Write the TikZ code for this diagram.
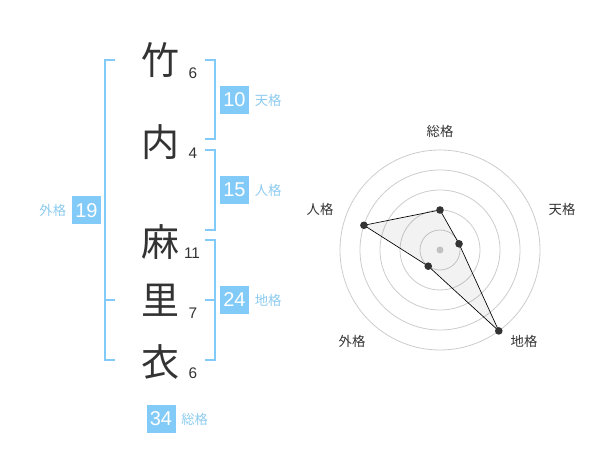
\documentclass[tikz,border=0pt]{standalone}
\usepackage{fontspec}
\setmainfont{Liberation Sans}
\newfontfamily\jpfont{Noto Sans CJK JP}
\definecolor{kakublue}{HTML}{82CBF8}
\definecolor{kakutext}{HTML}{8CCBEF}
\definecolor{inkgray}{HTML}{333333}
\definecolor{ringgray}{HTML}{CCCCCC}
\usetikzlibrary{positioning}

\begin{document}
\begin{tikzpicture}[x=0.75pt,y=-0.75pt,
  kanji/.style={font=\jpfont\fontsize{28.5}{28.5}\selectfont, text=inkgray, inner sep=0pt},
  strokes/.style={font=\fontsize{11.5}{11.5}\selectfont, text=inkgray, inner sep=0pt},
  kakubox/.style={fill=kakublue, text=white, minimum width=21.75pt, minimum height=21pt,
    inner sep=0pt, font=\fontsize{15}{15}\selectfont},
  kakulabel/.style={font=\jpfont\fontsize{10}{10}\selectfont, text=kakutext, inner sep=0pt},
  radarlabel/.style={font=\jpfont\fontsize{10}{10}\selectfont, text=inkgray, inner sep=0pt},
  bracket/.style={kakublue, line width=1.5pt}]
  \useasboundingbox (0,0) rectangle (600,470);
  % Name
  \node[kanji] (take) at (160,60) {竹};
  \node[kanji] (uchi) at (160,142) {内};
  \node[kanji] (ma) at (160,242) {麻};
  \node[kanji] (ri) at (160,300) {里};
  \node[kanji] (i) at (160,362) {衣};
  % Stroke counts
  \node[strokes] (take-n) at (193,73) {6};
  \node[strokes] (uchi-n) at (193,153) {4};
  \node[strokes] (ma-n) at (192,253) {11};
  \node[strokes] (ri-n) at (193,313) {7};
  \node[strokes] (i-n) at (193,373) {6};
  % Brackets
  \draw[bracket] (205,60) -- (215,60) -- (215,139) -- (205,139);
  \draw[bracket] (205,150) -- (215,150) -- (215,230) -- (205,230);
  \draw[bracket] (205,240) -- (215,240) -- (215,360) -- (205,360);
  \draw[bracket] (205,300) -- (215,300);
  \draw[bracket] (115,60) -- (105,60) -- (105,360) -- (115,360);
  \draw[bracket] (105,300) -- (115,300);
  % Totals
  \node[kakubox] (ten) at (234.5,100) {10};
  \node[kakulabel, right=4pt of ten] (ten-l) {天格};
  \node[kakubox] (jin) at (234.5,190) {15};
  \node[kakulabel, right=4pt of jin] (jin-l) {人格};
  \node[kakubox] (chi) at (234.5,300) {24};
  \node[kakulabel, right=4pt of chi] (chi-l) {地格};
  \node[kakubox] (gai) at (86.5,210.5) {19};
  \node[kakulabel, left=4pt of gai] (gai-l) {外格};
  \node[kakubox] (sou) at (161,419) {34};
  \node[kakulabel, right=4pt of sou] (sou-l) {総格};
  % Radar chart
  \begin{scope}[xshift=330pt, yshift=-187.5pt, x=0.75pt, y=0.75pt]
    \foreach \r in {20,40,60,80,100}
      \draw[ringgray, line width=0.6pt] (0,0) circle (\r);
    \fill[ringgray] (0,0) circle (3.5);
    \coordinate (p-sou) at (90:40);
    \coordinate (p-ten) at (18:20);
    \coordinate (p-chi) at (-54:100);
    \coordinate (p-gai) at (-126:20);
    \coordinate (p-jin) at (162:80);
    \draw[black, line width=0.5pt, fill=black, fill opacity=0.05]
      (p-sou) -- (p-ten) -- (p-chi) -- (p-gai) -- (p-jin) -- cycle;
    \foreach \p in {sou,ten,chi,gai,jin}
      \fill[inkgray] (p-\p) circle (3.8);
    \node[radarlabel] (r-sou) at (0,119) {総格};
    \node[radarlabel] (r-ten) at (122,41) {天格};
    \node[radarlabel] (r-chi) at (84,-91) {地格};
    \node[radarlabel] (r-gai) at (-88,-91) {外格};
    \node[radarlabel] (r-jin) at (-120,41) {人格};
  \end{scope}
\end{tikzpicture}
\end{document}
